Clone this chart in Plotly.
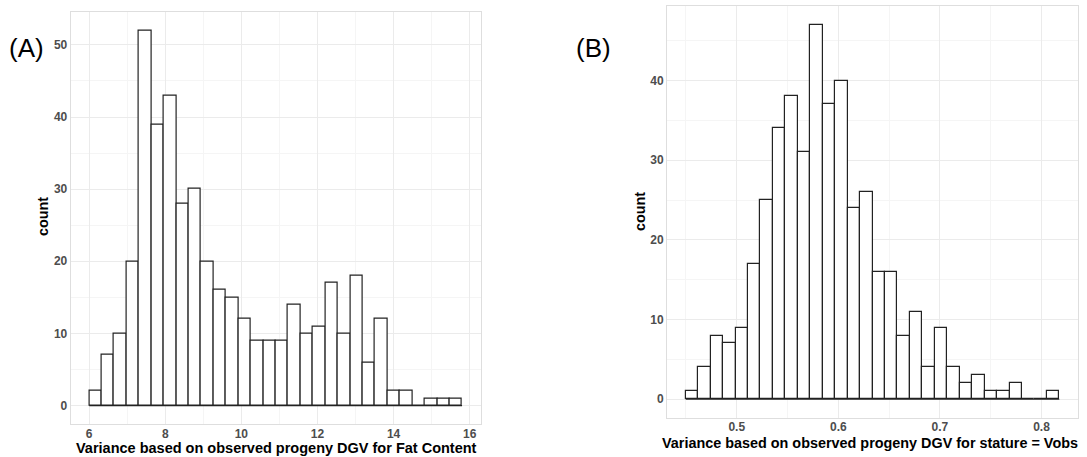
import plotly.graph_objects as go

# ---- data ----
fat_bin_start = 6.005
fat_bin_width = 0.3265
fat_counts = [2, 7, 10, 20, 52, 39, 43, 28, 30, 20, 16, 15, 12, 9, 9, 9, 14, 10, 11, 17,
              10, 18, 6, 12, 2, 2, 0, 1, 1, 1]

stat_bin_start = 0.4497
stat_bin_width = 0.01226
stat_counts = [1, 4, 8, 7, 9, 17, 25, 34, 38, 31, 47, 37, 40, 24, 26, 16, 16, 8, 11, 4,
               9, 4, 2, 3, 1, 1, 2, 0, 0, 1]

fat_xticks = [6, 8, 10, 12, 14, 16]
fat_yticks = [0, 10, 20, 30, 40, 50]
stat_xticks = [0.5, 0.6, 0.7, 0.8]
stat_yticks = [0, 10, 20, 30, 40]

fat_xlabel = "Variance based on observed progeny DGV for Fat Content"
stat_xlabel = "Variance based on observed progeny DGV for stature = Vobs"
ylabel = "count"
panel_labels = ["(A)", "(B)"]

# ---- styles ----
FONT = "Liberation Sans, Arial, Helvetica, sans-serif"
GRID = "#EBEBEB"
MINOR = "#F5F5F5"
BORDER = "#DEDEDE"
TICKFONT = dict(family=FONT, size=12, color="#4D4D4D", weight="bold")
W, H = 1087, 457


def fx(px):
    return px / W


def fy(py):
    return 1 - py / H


def edges(start, width, n):
    return [start + width * i for i in range(n + 1)]


def hist_traces(start, width, counts, xa, ya):
    e = edges(start, width, len(counts))
    centers = [(e[i] + e[i + 1]) / 2 for i in range(len(counts))]
    base = go.Scatter(x=[e[0], e[-1]], y=[0, 0], mode="lines",
                      line=dict(color="#222222", width=1.2),
                      xaxis=xa, yaxis=ya, showlegend=False, hoverinfo="skip")
    bars = go.Bar(x=centers, y=counts, width=[width] * len(counts),
                  marker=dict(color="white", line=dict(color="#222222", width=1.2)),
                  xaxis=xa, yaxis=ya, showlegend=False)
    return [base, bars], e


tA, eA = hist_traces(fat_bin_start, fat_bin_width, fat_counts, "x", "y")
tB, eB = hist_traces(stat_bin_start, stat_bin_width, stat_counts, "x2", "y2")

fig = go.Figure(data=tA + tB)


def rng(lo, hi, frac=0.05):
    d = (hi - lo) * frac
    return [lo - d, hi + d]


def axis_common(standoff):
    return dict(showgrid=True, gridcolor=GRID, gridwidth=1,
                showline=True, linecolor=BORDER, linewidth=1, mirror=True,
                zeroline=False, ticks="", ticklabelstandoff=standoff,
                tickfont=TICKFONT, fixedrange=True, automargin=False)


def ann(text, px, py, size, bold=True, angle=0):
    return dict(text=text, x=fx(px), y=fy(py), xref="paper", yref="paper",
                showarrow=False, textangle=angle,
                font=dict(family=FONT, size=size, color="black",
                          weight="bold" if bold else "normal"),
                xanchor="center", yanchor="middle")


fig.update_layout(
    width=W, height=H,
    margin=dict(l=0, r=0, t=0, b=0),
    paper_bgcolor="white", plot_bgcolor="white",
    bargap=0,
    xaxis=dict(**axis_common(-2), domain=[fx(70.7), fx(480.7)], anchor="y",
               range=rng(eA[0], eA[-1]), tickvals=fat_xticks,
               minor=dict(showgrid=True, gridcolor=MINOR, tickvals=[7, 9, 11, 13, 15])),
    yaxis=dict(**axis_common(0), domain=[fy(424.3), fy(11.7)], anchor="x",
               range=rng(0, max(fat_counts)), tickvals=fat_yticks,
               minor=dict(showgrid=True, gridcolor=MINOR, tickvals=[5, 15, 25, 35, 45])),
    xaxis2=dict(**axis_common(-2), domain=[fx(667), fx(1078)], anchor="y2",
                range=rng(eB[0], eB[-1]), tickvals=stat_xticks,
                minor=dict(showgrid=True, gridcolor=MINOR, tickvals=[0.45, 0.55, 0.65, 0.75])),
    yaxis2=dict(**axis_common(0), domain=[fy(418), fy(6)], anchor="x2",
                range=rng(0, max(stat_counts)), tickvals=stat_yticks,
                minor=dict(showgrid=True, gridcolor=MINOR, tickvals=[5, 15, 25, 35, 45])),
    annotations=[
        ann(panel_labels[0], 26, 48, 26, bold=False),
        ann(panel_labels[1], 593, 48, 26, bold=False),
        ann(fat_xlabel, 276, 448, 14.5),
        ann(stat_xlabel, 870, 443, 14.4),
        ann(ylabel, 43, 217, 14.4, angle=-90),
        ann(ylabel, 640, 212, 14.4, angle=-90),
    ],
)

fig.write_html("out.html",
               config={"displayModeBar": False},
               post_script="document.body.style.margin='0';document.body.style.overflow='hidden';")
